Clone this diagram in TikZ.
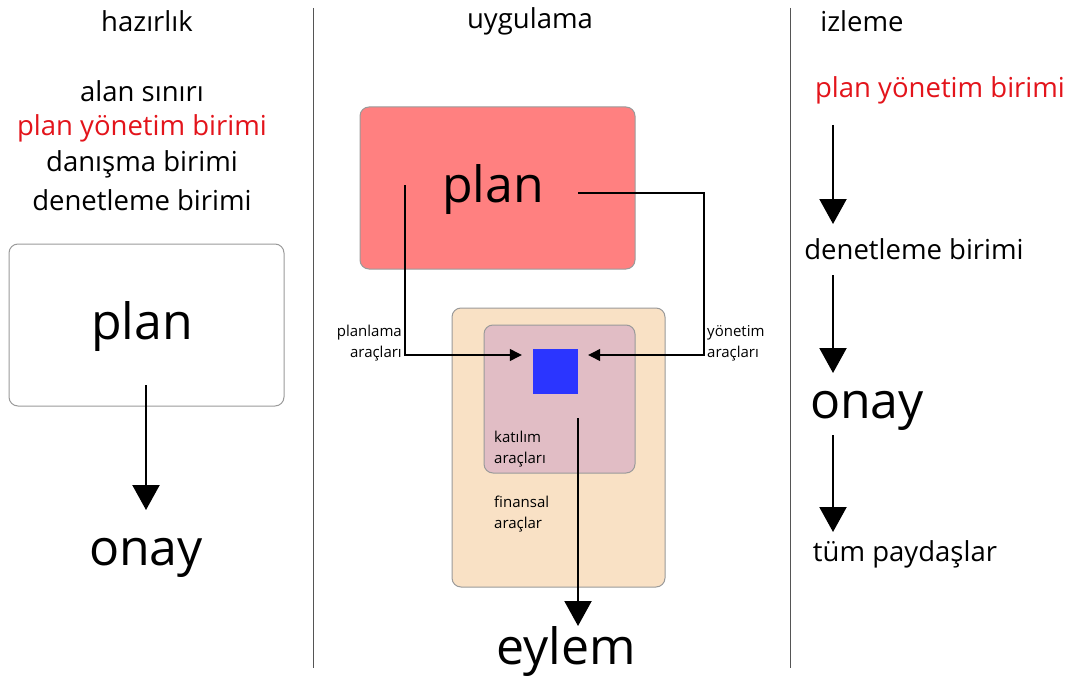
\documentclass[tikz,border=0pt]{standalone}
\usepackage{fontspec}
\setmainfont{Open Sans}
\usetikzlibrary{arrows.meta}
\definecolor{redtxt}{HTML}{E3141B}
\definecolor{planred}{HTML}{FF8080}
\definecolor{orangefill}{HTML}{F9E1C5}
\definecolor{pinkfill}{HTML}{E1BDC5}
\definecolor{bluesq}{HTML}{2B35FF}
\definecolor{divgray}{HTML}{555555}
\definecolor{boxgray}{HTML}{9A9A9A}
\begin{document}
\begin{tikzpicture}[x=1pt,y=-1pt,
  txt/.style={inner sep=0pt,font=\fontsize{27.5}{32}\selectfont},
  big/.style={inner sep=0pt,font=\fontsize{50}{54}\selectfont},
  small/.style={inner sep=0pt,font=\fontsize{15}{21}\selectfont,align=left},
  bigarrow/.style={line width=2.2pt,-{Triangle[length=25pt,width=27pt]}},
  thinarrow/.style={line width=1.2pt,-{Triangle[length=12pt,width=12pt]}},
  rbox/.style={rounded corners=9pt,draw=boxgray,line width=1pt}]
\useasboundingbox (0,0) rectangle (1070,682);
% dividers
\draw[divgray,line width=1pt] (313,8) -- (313,668);
\draw[divgray,line width=1pt] (790,8) -- (790,668);
% headers
\node[txt] (h1) at (147,21) {hazırlık};
\node[txt] (h2) at (530,21) {uygulama};
\node[txt] (h3) at (862,21) {izleme};
% left column
\node[txt] (l1) at (142,91) {alan sınırı};
\node[txt,text=redtxt] (l2) at (142,128) {plan yönetim birimi};
\node[txt] (l3) at (142,164) {danışma birimi};
\node[txt] (l4) at (142,200) {denetleme birimi};
\draw[rbox,fill=white] (9,244) rectangle (284,406);
\node[big] (lplan) at (142,327) {plan};
\coordinate (la) at (146,385);
\node[big] (lonay) at (146,558) {onay};
\draw[bigarrow] (la) -- (146,510);
% middle
\draw[rbox,fill=planred] (360,107) rectangle (635,269);
\node[big] (mplan) at (493,190) {plan};
\draw[rbox,fill=orangefill] (452,308) rectangle (665,587);
\draw[rbox,fill=pinkfill] (484,325) rectangle (635,473);
\node[draw=none,fill=bluesq,minimum width=45pt,minimum height=45pt,inner sep=0pt] (sq) at (555.5,371) {};
\coordinate (pl) at (405,185);
\coordinate (yo) at (578,193);
\draw[thinarrow] (pl) -- (405,355) -- ([xshift=-11pt]sq.west |- 0,355);
\draw[thinarrow] (yo) -- (704,193) -- (704,355) -- ([xshift=10pt]sq.east |- 0,355);
\node[small,anchor=east,align=right] (plt) at (402,343) {planlama\\araçları};
\node[small,anchor=west] (yot) at (707,343) {yönetim\\araçları};
\node[small,anchor=west] (kat) at (494,449) {katılım\\araçları};
\node[small,anchor=west] (fin) at (494,514) {finansal\\araçlar};
\coordinate (ea) at (578,418);
\draw[bigarrow] (ea) -- (578,626);
\node[big] (eylem) at (566,652) {eylem};
% right column
\node[txt,text=redtxt] (r1) at (940,90) {plan yönetim birimi};
\node[txt] (r2) at (914,249) {denetleme birimi};
\node[big] (r3) at (867,411) {onay};
\node[txt] (r4) at (905,554) {tüm paydaşlar};
\draw[bigarrow] (833,125) -- (833,224);
\draw[bigarrow] (833,275) -- (833,373);
\draw[bigarrow] (833,435) -- (833,532);
\end{tikzpicture}
\end{document}
